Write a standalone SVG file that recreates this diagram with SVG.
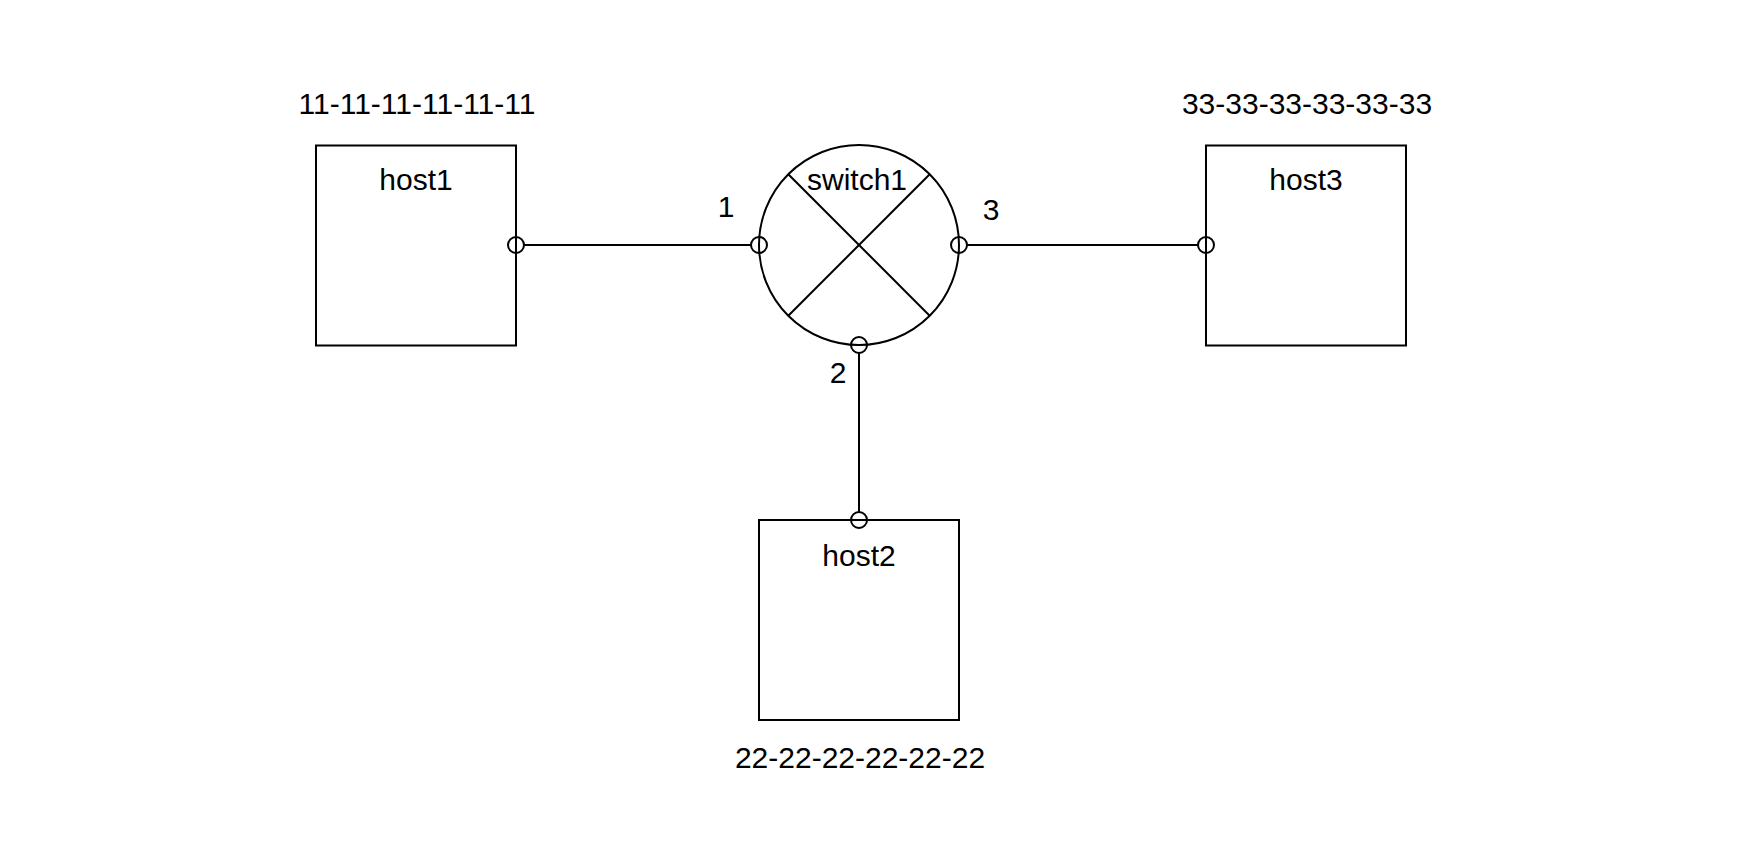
<svg xmlns="http://www.w3.org/2000/svg" width="1748" height="862" viewBox="0 0 1748 862">
<style>
.shape{fill:#fff;stroke:#000;stroke-width:2}
.port{fill:none;stroke:#000;stroke-width:2}
.wire{stroke:#000;stroke-width:2;fill:none}
text{font-family:"Liberation Sans",Arial,sans-serif;font-size:30px;fill:#000;text-anchor:middle}
</style>
<rect width="1748" height="862" fill="#fff"/>
<g id="connectors">
<line class="wire" x1="524" y1="245" x2="751" y2="245"/>
<line class="wire" x1="967" y1="245" x2="1198" y2="245"/>
<line class="wire" x1="859" y1="353" x2="859" y2="512"/>
</g>
<g id="host1">
<rect class="shape" x="316" y="145.5" width="200" height="200"/>
<text x="416" y="190">host1</text>
<text x="417" y="114">11-11-11-11-11-11</text>
<circle class="port" cx="516" cy="245" r="8"/>
</g>
<g id="switch1">
<circle class="shape" cx="859" cy="245" r="100"/>
<line class="wire" x1="788.3" y1="174.3" x2="929.7" y2="315.7"/>
<line class="wire" x1="929.7" y1="174.3" x2="788.3" y2="315.7"/>
<text x="857" y="190">switch1</text>
<circle class="port" cx="759" cy="245" r="8"/>
<circle class="port" cx="959" cy="245" r="8"/>
<circle class="port" cx="859" cy="345" r="8"/>
<text x="726" y="217">1</text>
<text x="991" y="220">3</text>
<text x="838" y="383">2</text>
</g>
<g id="host3">
<rect class="shape" x="1206" y="145.5" width="200" height="200"/>
<text x="1306" y="190">host3</text>
<text x="1307" y="114">33-33-33-33-33-33</text>
<circle class="port" cx="1206" cy="245" r="8"/>
</g>
<g id="host2">
<rect class="shape" x="759" y="520" width="200" height="200"/>
<text x="859" y="566">host2</text>
<text x="860" y="768">22-22-22-22-22-22</text>
<circle class="port" cx="859" cy="520" r="8"/>
</g>
</svg>
